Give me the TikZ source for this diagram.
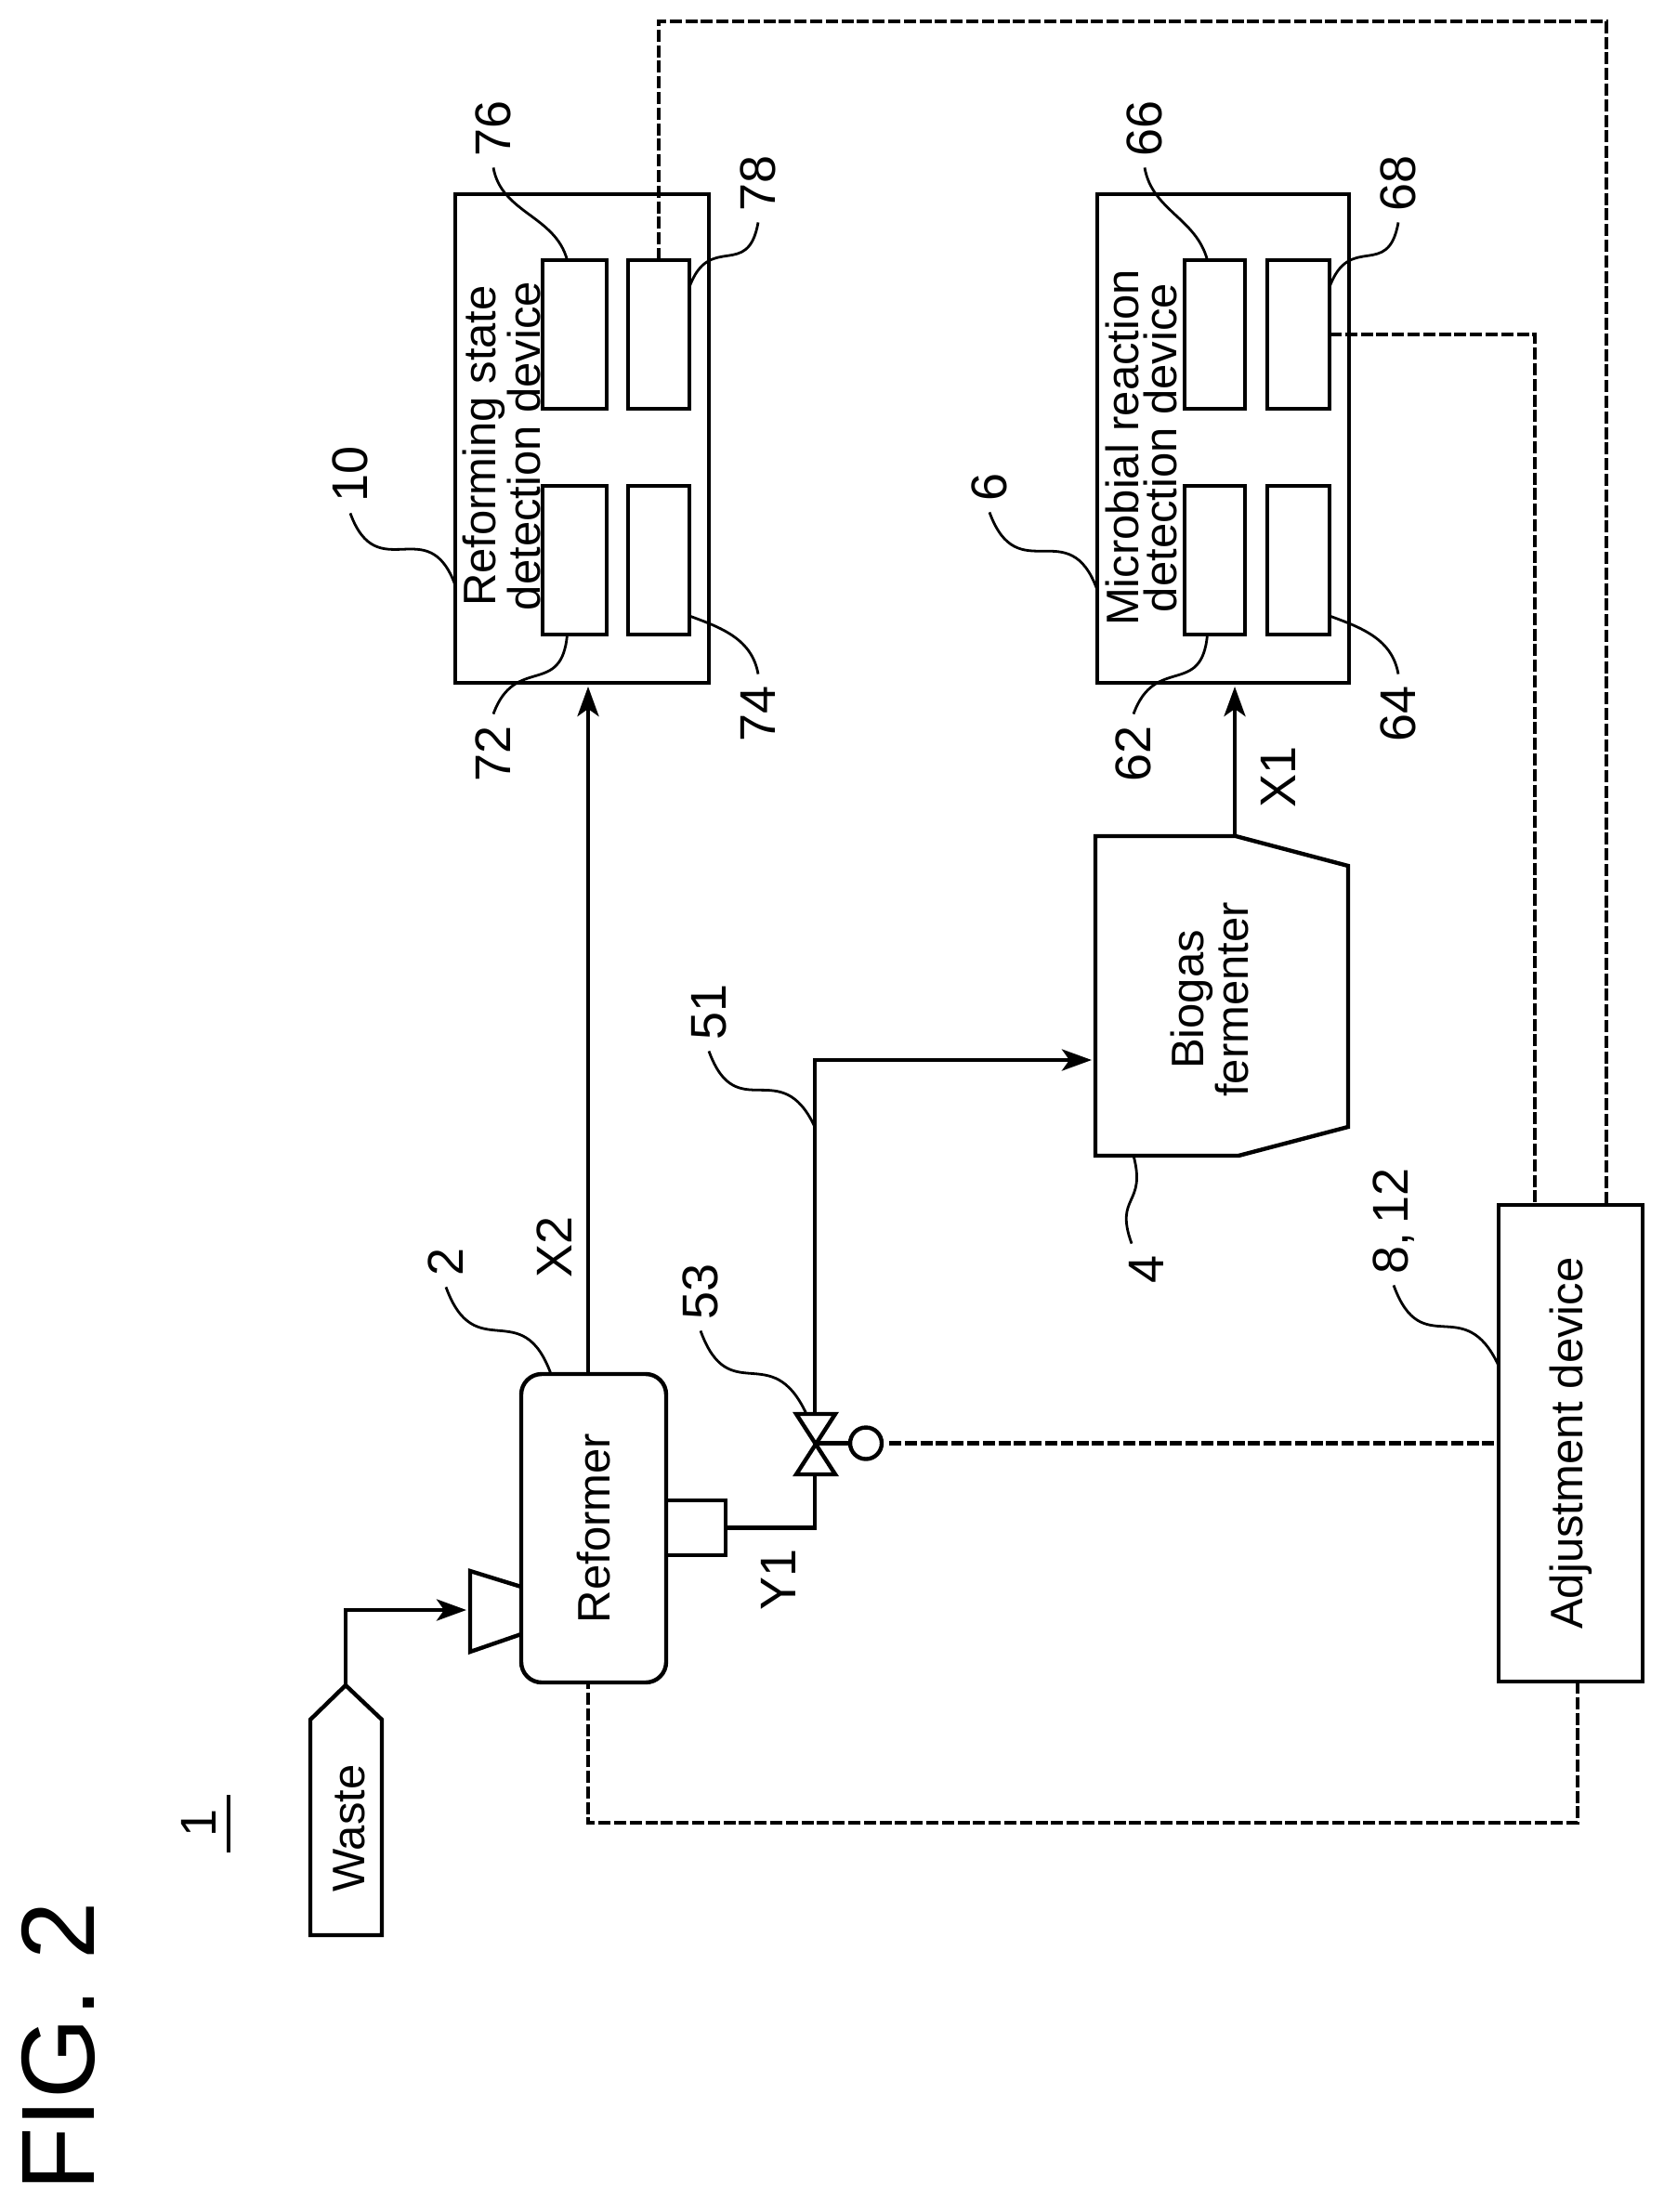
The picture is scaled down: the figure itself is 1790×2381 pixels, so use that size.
\documentclass[tikz,border=0pt]{standalone}
\usepackage{fontspec}
\setmainfont{Liberation Sans}
\usetikzlibrary{arrows.meta}
\tikzset{
    box/.style={draw,line width=2.2pt,inner sep=0pt,outer sep=0pt,font=\fontsize{24.5}{20.5}\selectfont},
    shapeline/.style={line width=2.2pt,line join=miter},
    pipe/.style={line width=2.2pt},
    flow/.style={pipe,-{Stealth[length=16pt,width=11.5pt,inset=4pt]},shorten >=2pt},
    signal/.style={line width=2.2pt,dash pattern=on 6.5pt off 1.9pt},
    leadline/.style={line width=1.4pt},
    devtext/.style={rotate=90,align=center,inner sep=0pt,font=\fontsize{24.5}{20.5}\selectfont},
    numlabel/.style={rotate=90,inner sep=6pt,font=\fontsize{27}{27}\selectfont},
}
\begin{document}
\begin{tikzpicture}[x=0.5pt,y=-0.5pt]
    \useasboundingbox (0,0) rectangle (1790,2381);

    \node[rotate=90,inner sep=0pt,font=\fontsize{56}{56}\selectfont] (figlabel) at (63,2203) {FIG. 2};
    \node[numlabel] (lab1) at (214,1962) {1};
    \draw[pipe] (246,1932) -- (246,1994);

    % reforming side
    \node[box,minimum width=136.5pt,minimum height=263pt] (rdev) at (626.5,472) {};
    \node[box,minimum width=34.5pt,minimum height=80pt] (d72) at (618.5,603) {};
    \node[box,minimum width=34.5pt,minimum height=80pt] (d76) at (618.5,360) {};
    \node[box,minimum width=33pt,minimum height=80pt] (d74) at (709,603) {};
    \node[box,minimum width=33pt,minimum height=80pt] (d78) at (709,360) {};
    \node[devtext] (rtext) at (540,480) {Reforming state\\detection device};

    % microbial side
    \node[box,minimum width=135.5pt,minimum height=263pt] (mdev) at (1316.5,472) {};
    \node[box,minimum width=32.5pt,minimum height=80pt] (d62) at (1307.5,603) {};
    \node[box,minimum width=32.5pt,minimum height=80pt] (d66) at (1307.5,360) {};
    \node[box,minimum width=33.5pt,minimum height=80pt] (d64) at (1397.5,603) {};
    \node[box,minimum width=33.5pt,minimum height=80pt] (d68) at (1397.5,360) {};
    \node[devtext] (mtext) at (1228,482) {Microbial reaction\\detection device};

    % plant
    \node[box,rounded corners=11pt,minimum width=78pt,minimum height=166pt] (reformer) at (639,1645) {\rotatebox{90}{Reformer}};
    \node[box,minimum width=32pt,minimum height=29.5pt] (outlet) at (749,1644.5) {};
    \node[box,minimum width=77.5pt,minimum height=256.5pt] (adj) at (1690.5,1553.5) {\rotatebox{90}{Adjustment device}};
    \draw[shapeline] (561,1708) -- (506,1691) -- (506,1778) -- (561,1759);
    \draw[shapeline] (372,1814) -- (411,1851) -- (411,2083) -- (334,2083) -- (334,1851) -- cycle;
    \node[devtext] (wastetext) at (376,1968) {Waste};
    \draw[shapeline] (1179,900) -- (1330,900) -- (1451,932) -- (1451,1213) -- (1333,1244) -- (1179,1244) -- cycle;
    \node[devtext,font=\fontsize{24.5}{22.5}\selectfont] (biogastext) at (1302,1076) {Biogas\\fermenter};
    \draw[shapeline] (857,1522) -- (899,1522) -- (857,1587) -- (899,1587) -- cycle;
    \node[draw,circle,line width=2.2pt,inner sep=0pt,outer sep=0pt,minimum size=17pt] (actuator) at (932,1553.5) {};

    \coordinate (wastetip) at (372,1814);
    \coordinate (hopper) at (506,1733);
    \coordinate (valve) at (878,1553.5);
    \coordinate (valvetop) at (877,1522);
    \coordinate (valvebot) at (877,1587);
    \coordinate (biogasin) at (1179,1141);
    \coordinate (biogasout) at (1329,900);
    \coordinate (biogasbase) at (1220,1244);
    \coordinate (pipe51) at (877,1213);
    \coordinate (cornerA) at (1698,1962);
    \coordinate (cornerB) at (633,1962);
    \coordinate (cornerC) at (1729,23);

    % flows
    \draw[flow] (wastetip) |- (hopper);
    \draw[flow] ([xshift=-3pt]reformer.north) -- ([xshift=3.25pt]rdev.south);
    \draw[flow] (biogasout) -- ([xshift=6.25pt]mdev.south);
    \draw[pipe] (outlet.east) -| (valvebot);
    \draw[flow] (valvetop) |- (biogasin);
    \draw[pipe] (valve) -- (actuator);

    % signals
    \draw[signal,shorten <=4pt] (actuator) -- (adj.west);
    \draw[signal] (d68.east) -| ([xshift=-19.25pt]adj.north);
    \draw[signal] (d78.north) |- (cornerC) -- ([xshift=19.25pt]adj.north);
    \draw[signal] ([xshift=3.75pt]adj.south) -- (cornerA) -- (cornerB) -- ([xshift=-3pt]reformer.south);

    % stream labels
    \node[numlabel] (labX2) at (597,1342) {X2};
    \node[numlabel] (labX1) at (1376,836) {X1};
    \node[numlabel] (labY1) at (838,1700) {Y1};

    % reference numbers
    \node[numlabel] (lab2) at (480,1358) {2};
    \node[numlabel] (lab4) at (1234,1366) {4};
    \node[numlabel] (lab6) at (1065,524) {6};
    \node[numlabel] (lab10) at (377,510) {10};
    \node[numlabel] (lab51) at (763,1089) {51};
    \node[numlabel] (lab53) at (754,1390) {53};
    \node[numlabel] (lab812) at (1500,1314) {8,\,12};
    \node[numlabel] (lab62) at (1220,811) {62};
    \node[numlabel] (lab64) at (1505,768) {64};
    \node[numlabel] (lab66) at (1232,138) {66};
    \node[numlabel] (lab68) at (1505,197) {68};
    \node[numlabel] (lab72) at (531,811) {72};
    \node[numlabel] (lab74) at (816,768) {74};
    \node[numlabel] (lab76) at (531,138) {76};
    \node[numlabel] (lab78) at (816,197) {78};

    \draw[leadline] (lab2.west) to[out=-70,in=110,looseness=1.6] ([xshift=-23pt]reformer.north);
    \draw[leadline] ([xshift=-8pt]lab4.east) to[out=110,in=-75,looseness=1.5] (biogasbase);
    \draw[leadline] (lab6.west) to[out=-70,in=110,looseness=1.6] ([yshift=-81.5pt]mdev.west);
    \draw[leadline] (lab10.west) to[out=-70,in=110,looseness=1.6] ([yshift=-79pt]rdev.west);
    \draw[leadline] (lab51.west) to[out=-70,in=115,looseness=1.6] (pipe51);
    \draw[leadline] (lab53.west) to[out=-70,in=115,looseness=1.6] ([xshift=-4.5pt]valvetop);
    \draw[leadline] (lab812.west) to[out=-70,in=115,looseness=1.6] ([yshift=41.75pt]adj.west);
    \draw[leadline] (lab62.east) to[out=70,in=-95,looseness=1.5] ([xshift=-4pt]d62.south);
    \draw[leadline] (lab72.east) to[out=70,in=-95,looseness=1.5] ([xshift=-4pt]d72.south);
    \draw[leadline] (lab64.east) to[out=100,in=-20] ([yshift=-30pt]d64.east);
    \draw[leadline] (lab74.east) to[out=100,in=-20] ([yshift=-30pt]d74.east);
    \draw[leadline] (lab66.west) to[out=-80,in=105] ([xshift=-4pt]d66.north);
    \draw[leadline] (lab76.west) to[out=-80,in=105] ([xshift=-4pt]d76.north);
    \draw[leadline] (lab68.west) to[out=-100,in=70,looseness=1.6] ([yshift=25.5pt]d68.east);
    \draw[leadline] (lab78.west) to[out=-100,in=70,looseness=1.6] ([yshift=25.5pt]d78.east);
\end{tikzpicture}
\end{document}
